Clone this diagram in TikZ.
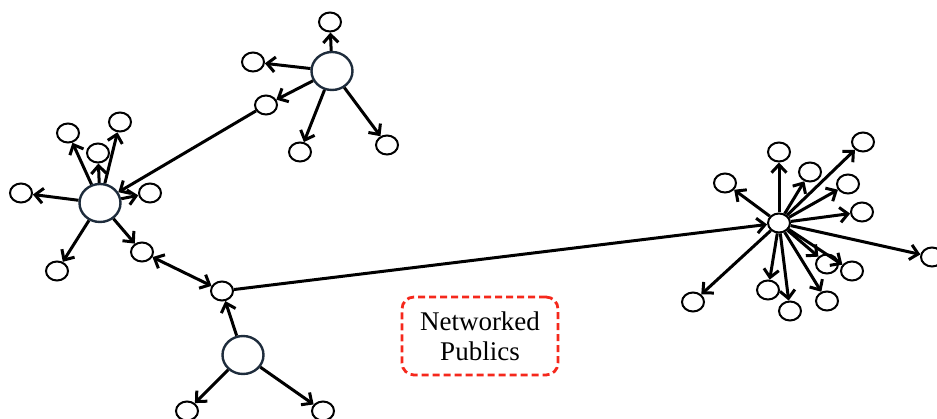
\documentclass[tikz,border=0pt]{standalone}
\usepackage{fontspec}
\setmainfont{Liberation Serif}
\usetikzlibrary{shapes.geometric,arrows.meta}
\definecolor{hubline}{HTML}{1E2C3C}
\definecolor{boxred}{HTML}{F5281C}
\tikzset{
  hub/.style={ellipse,draw=hubline,line width=2.4pt,fill=white,minimum width=41pt,minimum height=38pt,inner sep=0pt},
  leaf/.style={ellipse,draw=black,line width=2pt,fill=white,minimum width=22pt,minimum height=19pt,inner sep=0pt},
  tip/.tip={Straight Barb[length=8pt,width=15pt]},
  edge/.style={line width=3pt,-tip},
  dedge/.style={line width=3pt,tip-tip},
  labelbox/.style={draw=boxred,line width=2.8pt,dash pattern=on 7pt off 4pt,rounded corners=12pt,minimum width=156pt,minimum height=78pt,align=center,font=\fontsize{27}{30}\selectfont}
}
\begin{document}
\begin{tikzpicture}[x=1pt,y=-1pt]
\useasboundingbox (0,0) rectangle (937,419);
% hub A
\node[hub] (A) at (100,203) {};
\node[leaf] (a1) at (68,133) {};
\node[leaf] (a2) at (120,122) {};
\node[leaf] (a3) at (98,153) {};
\node[leaf] (a4) at (150,193) {};
\node[leaf] (a5) at (21,193) {};
\node[leaf] (a6) at (57,271) {};
\node[leaf] (a7) at (142,252) {};
% hub B
\node[hub] (B) at (332,71) {};
\node[leaf] (b1) at (330,22) {};
\node[leaf] (b2) at (253,62) {};
\node[leaf] (b3) at (266,105) {};
\node[leaf] (b4) at (300,152) {};
\node[leaf] (b5) at (387,145) {};
% hub C
\node[hub] (C) at (243,355) {};
\node[leaf] (c1) at (187,411) {};
\node[leaf] (c2) at (323,411) {};
\node[leaf] (M) at (222,291) {};
% hub D
\node[leaf] (D) at (779,223) {};
\node[leaf] (d1) at (725,183) {};
\node[leaf] (d2) at (779,152) {};
\node[leaf] (d3) at (810,172) {};
\node[leaf] (d4) at (863,142) {};
\node[leaf] (d5) at (848,184) {};
\node[leaf] (d6) at (862,212) {};
\node[leaf] (d7) at (932,257) {};
\node[leaf] (d8) at (827,264) {};
\node[leaf] (d9) at (852,271) {};
\node[leaf] (d10) at (827,301) {};
\node[leaf] (d11) at (768,290) {};
\node[leaf] (d12) at (790,311) {};
\node[leaf] (d13) at (693,302) {};
% edges
\foreach \t in {a1,a2,a3,a4,a5,a6,a7} \draw[edge] (A) -- (\t);
\foreach \t in {b1,b2,b3,b4,b5} \draw[edge] (B) -- (\t);
\draw[edge] (b3) -- (A);
\draw[dedge] (a7) -- (M);
\draw[edge] (C) -- (M);
\draw[edge] (C) -- (c1);
\draw[edge] (C) -- (c2);
\draw[edge] (M) -- (D);
\foreach \t in {d1,d2,d3,d4,d5,d6,d7,d8,d9,d10,d11,d12,d13} \draw[edge] (D) -- (\t);
% label
\node[labelbox] (lbl) at (480,336) {Networked\\Publics};
\end{tikzpicture}
\end{document}
